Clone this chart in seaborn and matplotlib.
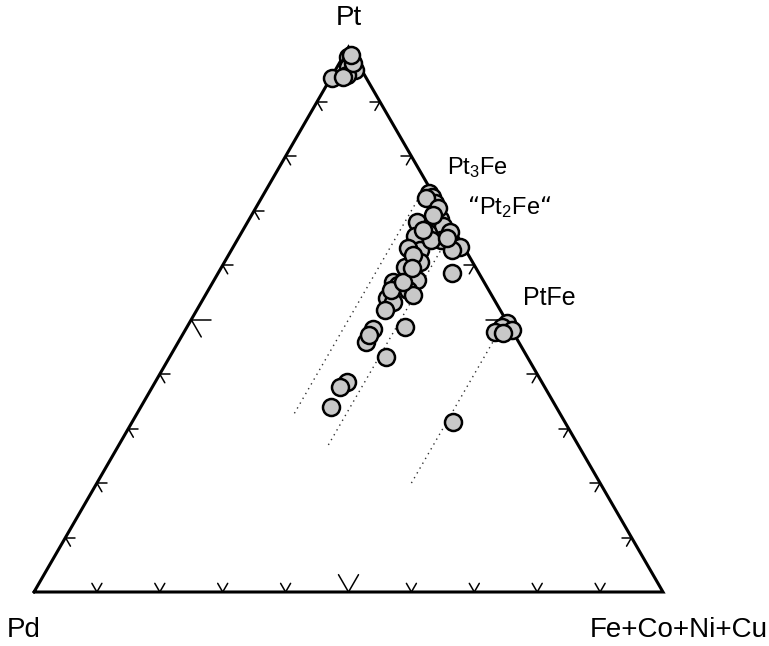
import numpy as np
import pandas as pd
import matplotlib
matplotlib.use("Agg")
import matplotlib.pyplot as plt
import seaborn as sns

sns.set_style("white")
plt.rcParams['font.family'] = ['Liberation Sans', 'DejaVu Sans']
plt.rcParams['mathtext.default'] = 'regular'
plt.rcParams['text.color'] = 'black'

# compositions in at.% : Pt and Fe+Co+Ni+Cu, Pd is the rest
pt = [98.2, 97.1, 96.3, 95.8, 94.9, 94.3, 94.5, 97.2, 98.5,
      73.2, 72.5, 71.4, 69.7, 68.4, 67.9, 67.0, 67.2, 66.1, 65.9,
      65.3, 64.6, 63.3, 62.8, 63.1, 62.8, 64.6, 59.6, 60.6, 58.5,
      56.9, 57.2, 56.3, 55.4, 54.5, 53.9, 53.2, 51.7, 48.6, 48.3,
      45.9, 47.2, 43.1, 38.5, 37.6, 33.9, 31.2,
      72.3, 70.5, 66.4, 65.0, 61.8, 55.4, 56.9, 59.4, 69.2,
      49.4, 48.6, 47.7, 48.1, 47.5]
fe = [0.8, 1.7, 1.8, 3.1, 2.3, 0.2, 1.9, 2.1, 1.1,
      26.2, 27.0, 28.1, 28.9, 30.3, 27.0, 29.5, 31.4, 33.1, 29.7,
      27.9, 32.4, 36.1, 30.0, 27.9, 35.1, 30.8, 29.2, 31.1, 37.2,
      28.6, 32.3, 29.7, 31.8, 33.0, 29.2, 30.5, 29.9, 34.7, 29.8,
      29.8, 29.7, 34.4, 30.5, 29.8, 30.3, 51.0,
      26.2, 29.0, 28.6, 33.2, 29.3, 29.1, 30.2, 30.4, 28.8,
      50.5, 50.1, 49.4, 51.9, 50.8]

# dotted guide lines: constant Fe (Pd for Pt substitution)
guide_fe = [25.0, 33.3, 50.0]
guide_pt_from = [32.8, 27.0, 20.0]
guide_pt_to = [75.0, 66.7, 50.0]

phase_names = ['Pt$_3$Fe', '\u201cPt$_2$Fe\u201c', 'PtFe']
phase_pt = [75.0, 66.7, 50.0]
phase_fe = [25.0, 33.3, 50.0]

tick_values = [10, 20, 30, 40, 50, 60, 70, 80, 90]

H = np.sqrt(3) / 2


def to_xy(p, f):
    p = np.asarray(p) / 100.0
    f = np.asarray(f) / 100.0
    return f + p / 2, p * H


fig = plt.figure(figsize=(7.69, 6.46), dpi=100)
ax = fig.add_axes([0, 0, 1, 1])

# triangle frame
corners = np.array([[0, 0], [1, 0], [0.5, H], [0, 0]])
ax.plot(corners[:, 0], corners[:, 1], color='black', lw=2.2,
        solid_joinstyle='miter', zorder=2)

# arrow-like ticks along each edge, arms parallel to the other edges
d_left = np.array([0.5, H])      # Pd -> Pt
d_right = np.array([-0.5, H])    # Fe -> Pt
d_bot = np.array([1.0, 0.0])     # Pd -> Fe
for t in tick_values:
    ln = (20 if t == 50 else 10) / 629
    u = t / 100
    p0 = np.array([u, 0])                 # bottom edge
    p1 = np.array([0.5 * u, H * u])       # left edge
    p2 = np.array([1 - 0.5 * u, H * u])   # right edge
    for p, arms in ((p0, (d_left, d_right)), (p1, (d_bot, -d_right)),
                    (p2, (-d_bot, -d_left))):
        for a in arms:
            ax.plot([p[0], p[0] + a[0] * ln], [p[1], p[1] + a[1] * ln],
                    color='black', lw=1.1, zorder=2)

# guide lines
for f, a, b in zip(guide_fe, guide_pt_from, guide_pt_to):
    gx, gy = to_xy([a, b], [f, f])
    ax.plot(gx, gy, color='#333333', lw=1.0, ls=(0, (1, 3)), zorder=1)

x, y = to_xy(pt, fe)
df = pd.DataFrame({'x': x, 'y': y})
sns.scatterplot(data=df, x='x', y='y', ax=ax, s=150, color='#c8c8c8',
                edgecolor='black', linewidth=1.8, zorder=3, legend=False)
ax.set_xlim(-34 / 629, (769 - 34) / 629)
ax.set_ylim(-54 / 629, (646 - 54) / 629)
ax.axis('off')

# labels
ax.text(0.5, H + 29 / 629, 'Pt', ha='center', va='center', fontsize=20)
ax.text(-10 / 629, -38 / 629, 'Pd', ha='center', va='center', fontsize=20)
ax.text(1 + 16 / 629, -38 / 629, 'Fe+Co+Ni+Cu', ha='center', va='center',
        fontsize=20)
label_dx = [20, 14, 17]
label_dy = [16, 22, 22]
label_fs = [17, 17, 18]
for n, p, f, dx, dy, fs in zip(phase_names, phase_pt, phase_fe,
                               label_dx, label_dy, label_fs):
    lx, ly = to_xy(p, f)
    ax.text(lx + dx / 629, ly + dy / 629, n, ha='left', va='center', fontsize=fs)

fig.savefig('out.png', dpi=100)
